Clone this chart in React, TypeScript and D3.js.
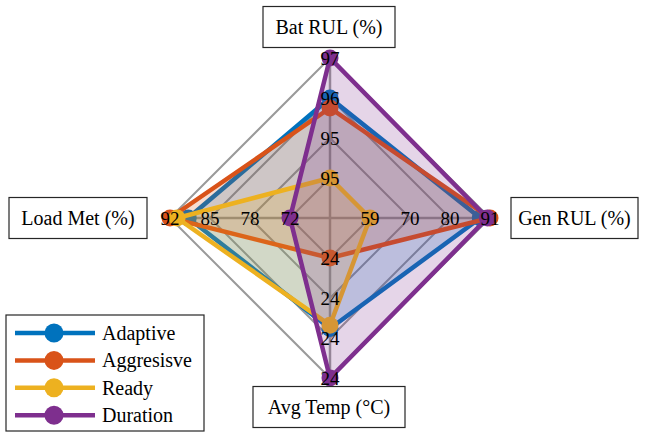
import React from "react";
import * as d3 from "d3";

const axisLabels = ["Bat RUL (%)", "Load Met (%)", "Avg Temp (°C)", "Gen RUL (%)"];
const seriesNames = ["Adaptive", "Aggresisve", "Ready", "Duration"];
const seriesColors = ["#0072BD", "#D95319", "#EDB120", "#7E2F8E"];
// values per series in axis order: Bat RUL, Load Met, Avg Temp, Gen RUL
const adaptive = [96.2, 88.9, 24.235, 88.4];
const aggressive = [96.0, 92.0, 24.0, 91.0];
const ready = [94.6, 90.8, 24.224, 59.0];
const duration = [97.0, 71.6, 24.4, 90.3];
const seriesValues = [adaptive, aggressive, ready, duration];
const ringCount = 4;

const FONT = 'Tinos, "Liberation Serif", "Nimbus Roman", FreeSerif, "DejaVu Serif"';

const W = 645, H = 433;
const cx = 330, cy = 218, R = 160;
const nAx = axisLabels.length;
const angle = (i: number) => Math.PI / 2 + (i * 2 * Math.PI) / nAx;
const pt = (i: number, r: number): [number, number] => [
  cx + r * Math.cos(angle(i)),
  cy - r * Math.sin(angle(i)),
];
// label box layout: center x, center y, width
const labelBoxes: [number, number, number][] = [
  [329, 27, 132],
  [78, 218, 138],
  [329, 407, 152],
  [574.5, 218, 127],
];

export default function App() {
  const scales = axisLabels.map((_, i) => {
    const vals = seriesValues.map((s) => s[i]);
    const [mn, mx] = d3.extent(vals) as [number, number];
    return d3.scaleLinear().domain([mn, mx]).range([R / ringCount, R]);
  });
  const ringR = d3.range(1, ringCount + 1).map((k) => (k * R) / ringCount);
  const line = d3.line<[number, number]>().curve(d3.curveLinearClosed);
  const fmt = d3.format(".0f");
  const textStyle = (size: number) => ({ fontFamily: FONT, fontSize: size });

  return (
    <div style={{ fontFamily: FONT }}>
      <svg width={W} height={H} fontFamily={FONT} style={{ position: "absolute", left: 0, top: 0, fontFamily: FONT }}>
        <rect width={W} height={H} fill="white" />
        <g>
          {ringR.map((r, k) => (
            <polygon
              key={k}
              points={d3.range(nAx).map((i) => pt(i, r).join(",")).join(" ")}
              fill="none"
              stroke="#9a9a9a"
              strokeWidth={2}
            />
          ))}
          {d3.range(nAx).map((i) => {
            const p = pt(i, R);
            return <line key={i} x1={cx} y1={cy} x2={p[0]} y2={p[1]} stroke="#9a9a9a" strokeWidth={2.5} />;
          })}
        </g>
        {seriesValues.map((vals, si) => {
          const pts = vals.map((v, i) => pt(i, scales[i](v)));
          return (
            <g key={si}>
              <path
                d={line(pts) || ""}
                fill={seriesColors[si]}
                fillOpacity={0.2}
                stroke={seriesColors[si]}
                strokeWidth={4.5}
              />
              {pts.map((p, j) => (
                <circle key={j} cx={p[0]} cy={p[1]} r={8.5} fill={seriesColors[si]} />
              ))}
            </g>
          );
        })}
        {scales.map((s, i) => {
          const [mn, mx] = s.domain();
          return d3.range(ringCount).map((k) => {
            const v = mn + (k * (mx - mn)) / (ringCount - 1);
            const p = pt(i, s(v));
            return (
              <text
                key={`${i}-${k}`}
                x={p[0]}
                y={p[1] + 6.5}
                textAnchor="middle"
                fill="#000"
                style={textStyle(19)}
              >
                {fmt(v)}
              </text>
            );
          });
        })}
        {axisLabels.map((lab, i) => {
          const [x, y, w] = labelBoxes[i];
          return (
            <g key={lab}>
              <rect x={x - w / 2} y={y - 20.5} width={w} height={41} fill="white" stroke="#262626" strokeWidth={1.2} />
              <text x={x} y={y + 7} textAnchor="middle" fill="#000" style={textStyle(20)}>
                {lab}
              </text>
            </g>
          );
        })}
        <g>
          <rect x={6} y={315} width={198} height={116} fill="white" stroke="#262626" strokeWidth={1.2} />
          {seriesNames.map((n, si) => {
            const y = 333 + si * 27.4;
            return (
              <g key={n}>
                <line x1={15} x2={95} y1={y} y2={y} stroke={seriesColors[si]} strokeWidth={4.5} />
                <circle cx={54} cy={y} r={9.5} fill={seriesColors[si]} />
                <text x={102} y={y + 7} fill="#000" style={textStyle(20)}>
                  {n}
                </text>
              </g>
            );
          })}
        </g>
      </svg>
    </div>
  );
}
